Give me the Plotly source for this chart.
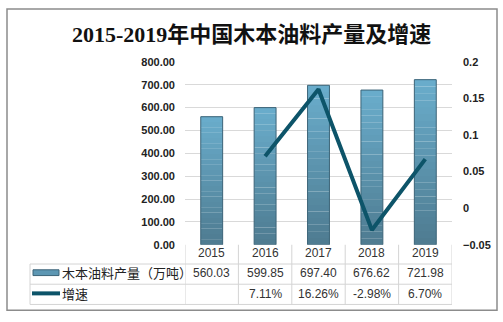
import plotly.graph_objects as go

years = ["2015", "2016", "2017", "2018", "2019"]
output = [560.03, 599.85, 697.40, 676.62, 721.98]
growth = [None, 0.0711, 0.1626, -0.0298, 0.0670]
growth_labels = ["", "7.11%", "16.26%", "-2.98%", "6.70%"]
series_bar = "木本油料产量（万吨）"
series_line = "增速"
title = "2015-2019年中国木本油料产量及增速"

W, H = 503, 322
def px(x):
    return x / W
def py(y):
    return 1 - y / H

FONT = "Liberation Sans, Noto Sans CJK SC, sans-serif"
CJK = "Noto Sans CJK SC, sans-serif"

top_rgb = (0x6a, 0xad, 0xcc)
bot_rgb = (0x4e, 0x7b, 0x90)
N = 24

fig = go.Figure()
# gradient bars: stacked slices from each bar's own value
for k in range(N):
    t = (k + 0.5) / N
    c = tuple(int(round(bot_rgb[j] + (top_rgb[j] - bot_rgb[j]) * t)) for j in range(3))
    col = "rgb(%d,%d,%d)" % c
    fig.add_trace(go.Bar(
        x=years, y=[v / N * 1.02 for v in output], base=[v * k / N for v in output], width=0.41,
        marker=dict(color=col, line=dict(width=0)),
        yaxis="y", showlegend=False, hoverinfo="skip",
    ))
fig.add_trace(go.Bar(
    x=years, y=output, width=0.41,
    marker=dict(color="rgba(0,0,0,0)", line=dict(color="#3c6478", width=1)),
    yaxis="y", showlegend=False, hoverinfo="skip",
))
fig.add_trace(go.Scatter(
    x=years[1:], y=growth[1:], mode="lines",
    line=dict(color="#0d5469", width=4),
    yaxis="y2", showlegend=False, hoverinfo="skip",
))

shapes = []
line_c = "#d4d4d4"
shapes.append(dict(type="rect", xref="paper", yref="paper", x0=px(7), x1=px(497), y0=py(316), y1=py(3),
                   line=dict(color="#8c8c8c", width=1.5)))
for yy in [268, 289, 310]:
    shapes.append(dict(type="line", xref="paper", yref="paper", x0=px(30), x1=px(452), y0=py(yy), y1=py(yy),
                       line=dict(color=line_c, width=1)))
for i in range(len(years) + 1):
    shapes.append(dict(type="line", xref="x", yref="paper", x0=i - 0.5, x1=i - 0.5, y0=py(310), y1=py(248),
                       line=dict(color=line_c, width=1)))
shapes.append(dict(type="line", xref="paper", yref="paper", x0=px(30), x1=px(30), y0=py(310), y1=py(268),
                   line=dict(color=line_c, width=1)))
shapes.append(dict(type="rect", xref="paper", yref="paper", x0=px(33), x1=px(59), y0=py(280), y1=py(274),
                   fillcolor="#5d97b3", line=dict(color="#3c6478", width=1)))
shapes.append(dict(type="line", xref="paper", yref="paper", x0=px(32), x1=px(60), y0=py(298.5), y1=py(298.5),
                   line=dict(color="#0d5469", width=4)))

annotations = [
    dict(text="<b>" + title + "</b>", xref="paper", yref="paper", x=px(251), y=py(30), showarrow=False,
         font=dict(family="Liberation Serif, Noto Sans CJK SC, serif", size=22, color="#111"),
         xanchor="center", yanchor="middle"),
    dict(text=series_bar, xref="paper", yref="paper", x=px(60), y=py(277), showarrow=False,
         font=dict(family=CJK, size=13, color="#222"), xanchor="left", yanchor="middle"),
    dict(text=series_line, xref="paper", yref="paper", x=px(60), y=py(299), showarrow=False,
         font=dict(family=CJK, size=13, color="#222"), xanchor="left", yanchor="middle"),
]
for i, yr in enumerate(years):
    annotations.append(dict(text=yr, xref="x", yref="paper", x=i, y=py(257), showarrow=False,
                            font=dict(family=FONT, size=12, color="#333"), xanchor="center", yanchor="middle"))
    annotations.append(dict(text=f"{output[i]:.2f}", xref="x", yref="paper", x=i, y=py(277), showarrow=False,
                            font=dict(family=FONT, size=12, color="#333"), xanchor="center", yanchor="middle"))
    annotations.append(dict(text=growth_labels[i], xref="x", yref="paper", x=i, y=py(299), showarrow=False,
                            font=dict(family=FONT, size=12, color="#333"), xanchor="center", yanchor="middle"))

fig.update_layout(
    width=W, height=H, margin=dict(l=0, r=0, t=0, b=0),
    paper_bgcolor="white", plot_bgcolor="white",
    barmode="overlay",
    xaxis=dict(domain=[px(185), px(452)], type="category", showticklabels=False, ticks="",
               showgrid=False, zeroline=False, showline=False, range=[-0.5, 4.5]),
    yaxis=dict(domain=[py(248), py(58)], range=[0, 800], dtick=100, tickformat=".2f",
               showgrid=True, gridcolor="#d9d9d9", gridwidth=1, zeroline=False, ticks="",
               tickfont=dict(family=FONT, size=11, color="#222", weight="bold"), ticklabelstandoff=9),
    yaxis2=dict(overlaying="y", side="right", range=[-0.05, 0.2], dtick=0.05,
                showgrid=False, zeroline=False, ticks="",
                tickfont=dict(family=FONT, size=11, color="#222", weight="bold"), ticklabelstandoff=10),
    shapes=shapes, annotations=annotations,
)

fig.write_html("out.html")
